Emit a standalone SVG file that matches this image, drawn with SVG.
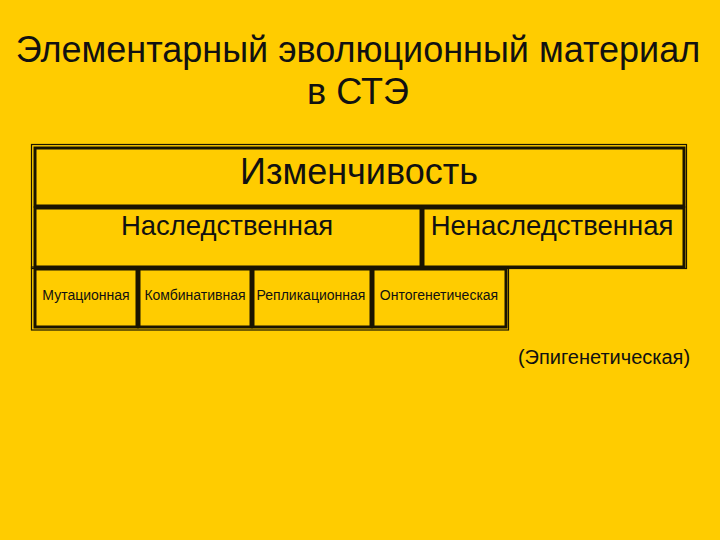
<svg xmlns="http://www.w3.org/2000/svg" width="720" height="540" viewBox="0 0 720 540">
<style>
text{font-family:"Liberation Sans",Arial,sans-serif;fill:#111;text-anchor:middle}
.cell{fill:none;stroke:#1a1400;stroke-width:3}
.frame{fill:none;stroke:#1a1400;stroke-width:1.2}
.t{font-size:36px}
.h1{font-size:36px}
.h2{font-size:27.5px}
.s{font-size:14px}
</style>
<rect width="720" height="540" fill="#FFCC00"/>
<g id="title">
<text class="t" x="358" y="62">Элементарный эволюционный материал</text>
<text class="t" x="358" y="104">в СТЭ</text>
</g>
<g id="connectors"></g>
<g id="table-frame">
<rect class="frame" x="31.5" y="144.5" width="655" height="124"/>
<rect class="frame" x="31.5" y="267" width="477" height="63"/>
</g>
<g id="izmenchivost">
<rect class="cell" x="35" y="148" width="649" height="58"/>
<text class="h1" x="359" y="184">Изменчивость</text>
</g>
<g id="nasled">
<rect class="cell" x="35" y="208" width="386" height="59"/>
<text class="h2" x="227" y="235">Наследственная</text>
</g>
<g id="nenasled">
<rect class="cell" x="423" y="208" width="261" height="59"/>
<text class="h2" x="552" y="235">Ненаследственная</text>
</g>
<g id="mutac">
<rect class="cell" x="35" y="269" width="102" height="58"/>
<text class="s" x="86" y="300">Мутационная</text>
</g>
<g id="kombin">
<rect class="cell" x="139" y="269" width="112" height="58"/>
<text class="s" x="195" y="300">Комбинативная</text>
</g>
<g id="replik">
<rect class="cell" x="253" y="269" width="118" height="58"/>
<text class="s" x="311" y="300">Репликационная</text>
</g>
<g id="ontogen">
<rect class="cell" x="373" y="269" width="133" height="58"/>
<text class="s" x="439" y="300">Онтогенетическая</text>
</g>
<g id="epigen">
<text x="604" y="364" style="font-size:20px">(Эпигенетическая)</text>
</g>
</svg>
